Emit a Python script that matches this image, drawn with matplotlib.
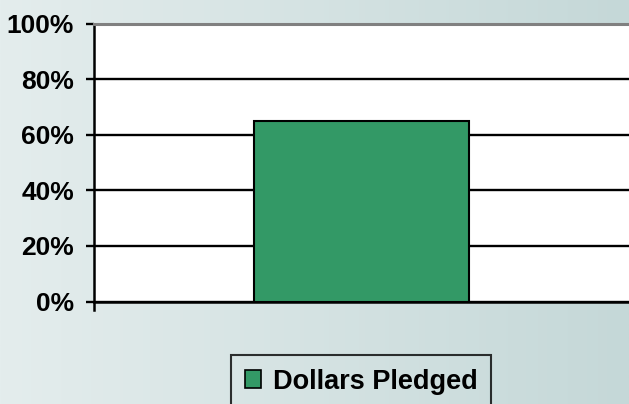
import numpy as np
import matplotlib
matplotlib.use("Agg")
import matplotlib.pyplot as plt
from matplotlib.colors import LinearSegmentedColormap

categories = ["Dollars Pledged"]
values = [65]
yticks = [0, 20, 40, 60, 80, 100]
ytick_labels = ["0%", "20%", "40%", "60%", "80%", "100%"]

W, H = 629, 404
fig = plt.figure(figsize=(W / 100, H / 100), dpi=100)

# background gradient
bg = fig.add_axes([0, 0, 1, 1], zorder=-10)
cmap = LinearSegmentedColormap.from_list("bg", ["#E4EDED", "#C5D8D8"])
grad = np.linspace(0, 1, 256).reshape(1, -1)
bg.imshow(grad, aspect="auto", cmap=cmap, extent=[0, 1, 0, 1])
bg.set_axis_off()

left, right, top, bottom = 93.5, 630, 23.5, 301.5
ax = fig.add_axes([left / W, 1 - bottom / H, (right - left) / W, (bottom - top) / H])
ax.set_facecolor("white")

x = np.arange(len(categories))
ax.bar(x, values, width=0.4, color="#339966", edgecolor="black", linewidth=1.5,
       zorder=3, label=categories[0])
ax.set_xlim(-0.5, 0.5)
ax.set_ylim(0, 100)
ax.set_yticks(yticks)
ax.set_yticklabels(ytick_labels, fontsize=19, fontweight="bold", family="Liberation Sans")
ax.set_xticks([])
for yv in yticks[:-1]:
    ax.axhline(yv, color="black", linewidth=1.7, zorder=1)

ax.tick_params(axis="y", direction="out", length=6, width=1.7, pad=8, colors="black")
ax.spines["right"].set_visible(False)
ax.spines["top"].set_color("#808080")
ax.spines["top"].set_linewidth(2.2)
ax.spines["left"].set_color("black")
ax.spines["left"].set_linewidth(1.8)
ax.spines["left"].set_bounds(-3, 100)
ax.spines["bottom"].set_color("black")
ax.spines["bottom"].set_linewidth(1.8)

leg = fig.legend(loc="upper left", bbox_to_anchor=(231 / W, 1 - 355 / H),
                 prop={"family": "Liberation Sans", "weight": "bold", "size": 19.5},
                 handlelength=0.6, handleheight=0.6, handletextpad=0.45,
                 borderpad=0.5, borderaxespad=0, fancybox=False, frameon=True)
fr = leg.get_frame()
fr.set_facecolor("none")
fr.set_edgecolor("black")
fr.set_linewidth(1.5)
for h in leg.legend_handles:
    h.set_linewidth(1.2)

fig.savefig("out.png", dpi=100)
